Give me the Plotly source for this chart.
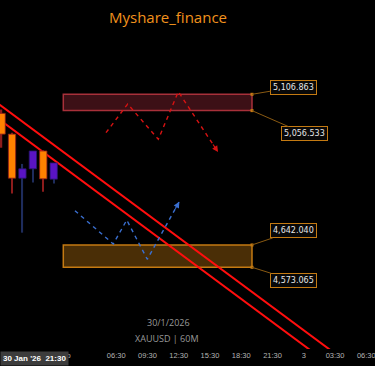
import plotly.graph_objects as go

# XAUUSD 60M candles (bar index: 0 = last closed hour)
bar_idx = [-5, -4, -3, -2, -1, 0]
opens = [5048.0, 4984.0, 4848.0, 4877.0, 4932.0, 4845.0]
highs = [5060.0, 4988.0, 4892.0, 4932.0, 4934.0, 4895.0]
lows = [4942.0, 4801.0, 4680.0, 4835.0, 4806.0, 4832.0]
closes = [4984.0, 4848.0, 4877.0, 4932.0, 4846.0, 4895.0]

# supply / demand zones
zone_x = [0.92, 19.03]
supply_zone = [5106.863, 5056.533]
demand_zone = [4642.040, 4573.065]

# descending channel lines
trend_x = [-6, 30]
upper_trend = [5094.1, 4235.5]
lower_trend = [5047.8, 4189.2]

# projected paths
red_path_x = [5.02, 7.10, 10.04, 11.96, 15.77]
red_path_y = [4988.4, 5076.9, 4968.0, 5114.9, 4928.8]
blue_path_x = [2.04, 5.72, 7.01, 8.98, 12.05]
blue_path_y = [4747.7, 4645.0, 4719.0, 4597.8, 4775.5]

# time axis
tick_vals = [1, 6, 9, 12, 15, 18, 21, 24, 27, 30]
tick_text = ["Feb", "06:30", "09:30", "12:30", "15:30", "18:30", "21:30", "3", "03:30", "06:30"]

ORANGE = "#c47a12"
UP_FILL, UP_LINE, UP_WICK = "#5a14c4", "#2a1670", "#1e2c5c"
DN_FILL, DN_LINE, DN_WICK = "#ff8200", "#8c1c1c", "#8c1c1c"

rising = [c >= o for o, c in zip(opens, closes)]

fig = go.Figure()

# candle wicks (thin bars from low to high)
fig.add_trace(go.Bar(
    x=bar_idx,
    y=[h - l for h, l in zip(highs, lows)],
    base=lows,
    width=0.12,
    marker=dict(color=[UP_WICK if r else DN_WICK for r in rising], line=dict(width=0)),
    hoverinfo="skip", showlegend=False))

# candle bodies
fig.add_trace(go.Bar(
    x=bar_idx,
    y=[abs(c - o) for o, c in zip(opens, closes)],
    base=[min(o, c) for o, c in zip(opens, closes)],
    width=0.7,
    marker=dict(color=[UP_FILL if r else DN_FILL for r in rising],
                line=dict(color=[UP_LINE if r else DN_LINE for r in rising], width=0.8)),
    hoverinfo="skip", showlegend=False))

# projected paths
fig.add_trace(go.Scatter(x=red_path_x, y=red_path_y, mode="lines",
                         line=dict(color="#d81212", width=1.4, dash="4px,4px"),
                         hoverinfo="skip", showlegend=False))
fig.add_trace(go.Scatter(x=blue_path_x, y=blue_path_y, mode="lines",
                         line=dict(color="#3a6fd0", width=1.4, dash="4px,4px"),
                         hoverinfo="skip", showlegend=False))

# zone corner handles
fig.add_trace(go.Scatter(
    x=[zone_x[1]] * 4,
    y=supply_zone + demand_zone,
    mode="markers", marker=dict(symbol="square", size=3, color=ORANGE),
    hoverinfo="skip", showlegend=False))

# zones
fig.add_shape(type="rect", x0=zone_x[0], x1=zone_x[1],
              y0=supply_zone[1], y1=supply_zone[0], layer="below",
              fillcolor="#3c1016", line=dict(color="#a8303a", width=1.5))
fig.add_shape(type="rect", x0=zone_x[0], x1=zone_x[1],
              y0=demand_zone[1], y1=demand_zone[0], layer="below",
              fillcolor="#4a2e06", line=dict(color=ORANGE, width=1.5))

# channel lines (under the candles, over the zones)
for ys in (upper_trend, lower_trend):
    fig.add_shape(type="line", x0=trend_x[0], x1=trend_x[1], y0=ys[0], y1=ys[1],
                  layer="below", line=dict(color="#ff0e0e", width=2))

# price labels for zone edges
label_offsets = [(41.5, -7), (52.5, 23), (41.5, -14), (41.5, 13)]
for price, (ax, ay) in zip(supply_zone + demand_zone, label_offsets):
    fig.add_annotation(x=zone_x[1], y=price, xref="x", yref="y",
                       text=f"{price:,.3f}", showarrow=True, arrowhead=0,
                       arrowwidth=1, arrowcolor="#8a5a12", ax=ax, ay=ay,
                       font=dict(family="DejaVu Sans", size=8, color="#e6e6e6"),
                       bgcolor="#080808", bordercolor=ORANGE, borderwidth=1,
                       borderpad=2)

# arrowheads at path ends
for px, py, col in ((red_path_x, red_path_y, "#d81212"), (blue_path_x, blue_path_y, "#3a6fd0")):
    tx = px[-2] + (px[-1] - px[-2]) * 0.85
    ty = py[-2] + (py[-1] - py[-2]) * 0.85
    fig.add_annotation(x=px[-1], y=py[-1], ax=tx, ay=ty, xref="x", yref="y",
                       axref="x", ayref="y", text="", showarrow=True,
                       arrowhead=2, arrowsize=1, arrowwidth=1.2, arrowcolor=col)

# title and watermark
fig.add_annotation(x=0.448, y=0.951, xref="paper", yref="paper",
                   xanchor="center", yanchor="middle",
                   text="Myshare_finance", showarrow=False,
                   font=dict(family="Open Sans", size=15, color="#f2921d"))
fig.add_annotation(x=0.448, y=0.0745, xref="paper", yref="paper",
                   xanchor="center", yanchor="middle",
                   text="30/1/2026", showarrow=False,
                   font=dict(family="Open Sans", size=9, color="#9a9a9a"))
fig.add_annotation(x=0.445, y=0.0315, xref="paper", yref="paper",
                   xanchor="center", yanchor="middle",
                   text="XAUUSD | 60M", showarrow=False,
                   font=dict(family="Open Sans", size=9, color="#9a9a9a"))

# crosshair time label
fig.add_annotation(x=0, y=0, xref="paper", yref="paper", xanchor="left",
                   yanchor="top", yshift=-2,
                   text="<b>30 Jan '26&nbsp;&nbsp;21:30</b>", showarrow=False,
                   font=dict(family="Liberation Sans Narrow, Liberation Sans", size=8, color="#ffffff"),
                   bgcolor="#3c3c3c", borderpad=2)

fig.update_layout(
    width=375, height=366,
    margin=dict(l=0, r=0, t=0, b=17),
    paper_bgcolor="#000000", plot_bgcolor="#000000",
    showlegend=False, barmode="overlay",
    xaxis=dict(range=[-5.154, 30.835], tickvals=tick_vals, ticktext=tick_text,
               showgrid=False, zeroline=False, showline=False, ticks="",
               ticklabeloverflow="allow",
               tickfont=dict(family="Liberation Sans", size=7.5, color="#b4b4b4"),
               fixedrange=True),
    yaxis=dict(range=[4321.0, 5397.8], visible=False, showgrid=False,
               zeroline=False, fixedrange=True),
)

fig.write_html("out.html", config={"displayModeBar": False})
